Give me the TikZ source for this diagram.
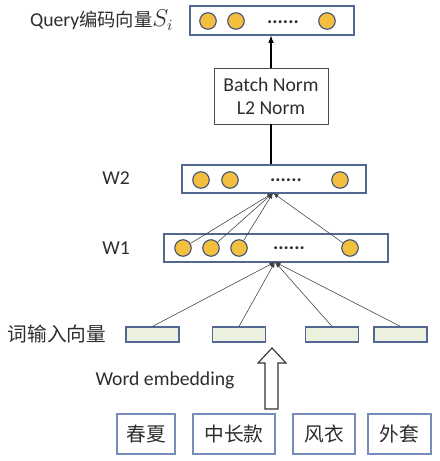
\documentclass[tikz,border=0pt]{standalone}
\usepackage{fontspec}
\setmainfont{Carlito}
\newfontfamily\cjk{Noto Sans CJK SC}
\definecolor{boxline}{RGB}{82,104,146}
\definecolor{wordline}{RGB}{118,140,186}
\definecolor{unitfill}{RGB}{244,190,62}
\definecolor{vecfill}{RGB}{236,240,222}
\definecolor{txt}{RGB}{45,45,45}
\newcommand{\pu}{0.025cm}
\tikzset{
  layer/.style = {draw=boxline, thick, rectangle, inner sep=0pt},
  unit/.style = {draw=boxline!80!black, thick, circle, fill=unitfill, minimum size=16.5*\pu, inner sep=0pt},
  wordvec/.style = {draw=boxline, thick, fill=vecfill, rectangle, minimum width=53*\pu, minimum height=15*\pu, inner sep=0pt},
  wordbox/.style = {draw=wordline, thick, rectangle, minimum height=40*\pu, inner sep=0pt, text=txt, font=\cjk\fontsize{14}{16}\selectfont},
  lbl/.style = {text=txt, font=\fontsize{14}{16}\selectfont},
  dotrow/.style = {text=txt, font=\bfseries\fontsize{14}{16}\selectfont},
  link/.style = {draw=black!75, thin, -latex}
}

\begin{document}
\begin{tikzpicture}[x=\pu, y=-\pu]
                \useasboundingbox (0,0) rectangle (440,461);
                % output vector
                \node[layer, minimum width=164*\pu, minimum height=29*\pu] (out) at (272,20.5) {};
                \node[unit] (o1) at (208,21) {};
                \node[unit] (o2) at (236,21) {};
                \node[unit] (o3) at (327,21) {};
                \node[dotrow] (dots0) at (283,22) {......};
                \node[lbl, anchor=east] (outlbl) at (178,20) {Query{\cjk\fontsize{13}{15}\selectfont 编码向量}{\fontsize{16}{18}\selectfont$S_i$}};
                % norm
                \node[draw=black!70, thin, minimum width=114*\pu, minimum height=56*\pu, align=center, lbl, inner sep=0pt] (norm) at (271,96) {Batch Norm\\L2 Norm};
                % W2
                \node[layer, minimum width=184*\pu, minimum height=28*\pu] (w2) at (274,179) {};
                \node[unit] (a1) at (201,180) {};
                \node[unit] (a2) at (230,180) {};
                \node[unit] (a3) at (340,180) {};
                \node[dotrow] (dots2) at (286,180) {......};
                \node[lbl] (w2lbl) at (116,178) {W2};
                % W1
                \node[layer, minimum width=224*\pu, minimum height=28*\pu] (w1) at (276,248) {};
                \node[unit] (b1) at (183,248) {};
                \node[unit] (b2) at (211,248) {};
                \node[unit] (b3) at (239,248) {};
                \node[unit] (b4) at (350,248) {};
                \node[dotrow] (dots1) at (289,248) {......};
                \node[lbl] (w1lbl) at (116,248) {W1};
                % word vectors
                \node[wordvec] (e1) at (152.5,334.5) {};
                \node[wordvec] (e2) at (239,334.5) {};
                \node[wordvec] (e3) at (332,334.5) {};
                \node[wordvec] (e4) at (400.5,334.5) {};
                \node[text=txt, font=\cjk\fontsize{14}{16}\selectfont] (elbl) at (57,334) {词输入向量};
                % words
                \node[wordbox, minimum width=58*\pu] (t1) at (146,434) {春夏};
                \node[wordbox, minimum width=82*\pu] (t2) at (234,434) {中长款};
                \node[wordbox, minimum width=62*\pu] (t3) at (324,434) {风衣};
                \node[wordbox, minimum width=63*\pu] (t4) at (399.5,434) {外套};
                \node[lbl] (emb) at (165,380) {Word embedding};
                \draw[thick, black!80, fill=white] (265,409) -- (265,363) -- (258,363) -- (272,348) -- (286,363) -- (278,363) -- (278,409) -- cycle;
                % connections
                \coordinate (w2in) at (273,193);
                \coordinate (w1in) at (275,262);
                \foreach \n in {e1,e2,e3,e4}
                    {\draw[link] (\n.north) -- (w1in);}
                \foreach \n in {b1,b2,b3,b4}
                    {\draw[link] (\n) -- (w2in);}
                \draw[thick] (w2.north -| norm.south) -- (norm.south);
                \draw[thick, -latex] (norm.north) -- (norm.north |- out.south);
            \end{tikzpicture}
\end{document}
